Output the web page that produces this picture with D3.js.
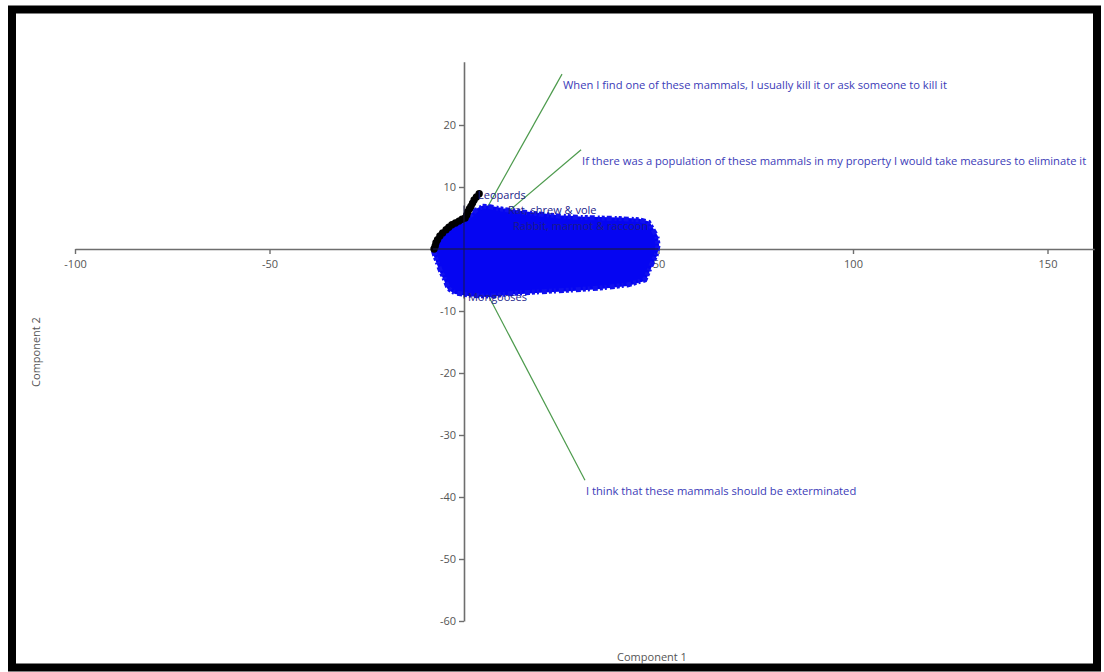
<!DOCTYPE html>
<html>
<head>
<meta charset="utf-8">
<script src="https://cdn.jsdelivr.net/npm/d3@7"></script>
<style>
  html, body { margin: 0; padding: 0; background: #fff; }
  svg { display: block; }
  text { font-family: "Open Sans", "DejaVu Sans", sans-serif; }
</style>
</head>
<body>
<svg id="chart" width="1104" height="672"></svg>
<script>
// Axis ticks
const xTicks = [-100, -50, 50, 100, 150];
const yTicks = [20, 10, -10, -20, -30, -40, -50, -60];

// Variable loadings (end points of the vectors)
const loadingLabels = [
  "When I find one of these mammals, I usually kill it or ask someone to kill it",
  "If there was a population of these mammals in my property I would take measures to eliminate it",
  "I think that these mammals should be exterminated"
];
const loadingX = [25.2, 30.1, 31.1];
const loadingY = [28.2, 16.0, -37.3];

// Outline of the dense cloud of labelled observations
const cloudX = [-8.0, -6.6, -5.0, -3.1, -1.0, 0.3, 2.0, 3.1, 5.0, 6.7, 10.0, 14.4, 20.0, 24.7, 30.0, 35.0, 40.0, 45.2, 47.5, 48.3, 49.6, 49.9, 49.4, 48.5, 46.5, 42.0, 35.0, 28.0, 19.5, 12.0, 6.7, 2.0, -2.3, -4.0, -4.9, -6.0, -6.9, -7.6];
const cloudY = [0.0, 1.6, 2.9, 3.8, 4.4, 4.8, 5.6, 6.3, 6.9, 6.8, 6.4, 6.0, 5.6, 5.3, 5.1, 5.0, 4.9, 4.7, 4.3, 3.4, 2.0, 0.6, -1.0, -2.1, -5.0, -5.8, -6.3, -6.6, -6.9, -7.2, -7.6, -7.5, -7.1, -6.4, -5.0, -3.6, -2.1, -0.9];

// Observations whose markers remain visible along the upper-left edge
const edgeX = [-7.7, -7.4, -7.2, -6.8, -6.2, -5.5, -4.6, -3.9, -3.1, -2.2, -1.3, -0.5, 0.3, 0.7, 1.0, 1.4, 1.8, 2.2, 2.6, 3.2, 3.9];
const edgeY = [0.0, 0.5, 1.0, 1.5, 2.1, 2.6, 3.1, 3.5, 3.9, 4.2, 4.5, 4.8, 5.0, 5.5, 6.0, 6.5, 6.9, 7.4, 7.9, 8.4, 8.9];

// Group labels that stay readable at the cloud border
const groupLabels = ["Leopards", "Rat, shrew & vole", "Rabbit, marmot & raccoon", "Mongooses"];
const groupX = [3.6, 11.3, 12.6, 1.0];
const groupY = [8.0, 5.6, 3.1, -8.4];

const svg = d3.select("#chart");

// Scales
const x = d3.scaleLinear().domain([-100, 162]).range([75, 75 + 262 * 3.89]);
const y = d3.scaleLinear().domain([-60, 30.2]).range([621, 621 - 90.2 * 6.2]);

// Frame
svg.append("rect")
  .attr("x", 12).attr("y", 9.5)
  .attr("width", 1085).attr("height", 658)
  .attr("fill", "none").attr("stroke", "#000").attr("stroke-width", 8);

// Axes through the origin
const axisColor = "#6e6e6e";
const plain = d => String(d);
const gx = svg.append("g")
  .attr("transform", `translate(0,${y(0)})`)
  .call(d3.axisBottom(x).tickValues(xTicks).tickFormat(plain).tickSizeInner(5).tickSizeOuter(0).tickPadding(6));
const gy = svg.append("g")
  .attr("transform", `translate(${x(0)},0)`)
  .call(d3.axisLeft(y).tickValues(yTicks).tickFormat(plain).tickSizeInner(5).tickSizeOuter(0).tickPadding(3));
[gx, gy].forEach(g => {
  g.select(".domain").attr("stroke", axisColor).attr("stroke-width", 1.6);
  g.selectAll(".tick line").attr("stroke", axisColor).attr("stroke-width", 1.4);
  g.selectAll(".tick text").attr("fill", "#555").style("font-size", "11px");
});

// Loading vectors
const loadings = loadingLabels.map((t, i) => ({ t, x: loadingX[i], y: loadingY[i] }));
svg.append("g").selectAll("line").data(loadings).join("line")
  .attr("x1", x(0)).attr("y1", y(0))
  .attr("x2", d => x(d.x)).attr("y2", d => y(d.y))
  .attr("stroke", "#4c9a4c").attr("stroke-width", 1.2);
svg.append("g").selectAll("text").data(loadings).join("text")
  .attr("x", d => x(d.x) + 1).attr("y", d => y(d.y) + 15)
  .attr("fill", "#3b3bb8")
  .style("font-size", "11.2px")
  .text(d => d.t);

// Observation cloud: solid body plus a ragged rim of overlapping labels
const cloudPts = cloudX.map((v, i) => [x(v), y(cloudY[i])]);
const cloudPath = d3.line().curve(d3.curveLinearClosed)(cloudPts);
svg.append("path")
  .attr("d", cloudPath)
  .attr("fill", "#0505f2")
  .attr("stroke", "#0505f2").attr("stroke-width", 2)
  .attr("stroke-linejoin", "round");
svg.append("path")
  .attr("d", cloudPath)
  .attr("fill", "none")
  .attr("stroke", "#1010ee").attr("stroke-width", 5)
  .attr("stroke-dasharray", "3 2 5 3 2 2");

// Edge markers
svg.append("g").selectAll("circle").data(edgeX.map((v, i) => [v, edgeY[i]])).join("circle")
  .attr("cx", d => x(d[0])).attr("cy", d => y(d[1]))
  .attr("r", 3.7).attr("fill", "#000");

// Axis lines re-drawn across the cloud
svg.append("line")
  .attr("x1", x(-8)).attr("x2", x(50))
  .attr("y1", y(0)).attr("y2", y(0))
  .attr("stroke", "#1a1a40").attr("stroke-width", 1.6).attr("opacity", 0.8);
svg.append("line")
  .attr("x1", x(0)).attr("x2", x(0))
  .attr("y1", y(7)).attr("y2", y(-8))
  .attr("stroke", "#1a1a40").attr("stroke-width", 1.6).attr("opacity", 0.6);

// Group labels
svg.append("g").selectAll("text").data(groupLabels.map((t, i) => ({ t, x: groupX[i], y: groupY[i] }))).join("text")
  .attr("x", d => x(d.x)).attr("y", d => y(d.y))
  .attr("fill", "#1c1c8a")
  .style("font-size", "11px")
  .text(d => d.t);

// Axis titles
svg.append("text")
  .attr("x", 652).attr("y", 661)
  .attr("text-anchor", "middle")
  .attr("fill", "#555").style("font-size", "11px")
  .text("Component 1");
svg.append("text")
  .attr("transform", "translate(40,352) rotate(-90)")
  .attr("text-anchor", "middle")
  .attr("fill", "#555").style("font-size", "11px")
  .text("Component 2");
</script>
</body>
</html>
